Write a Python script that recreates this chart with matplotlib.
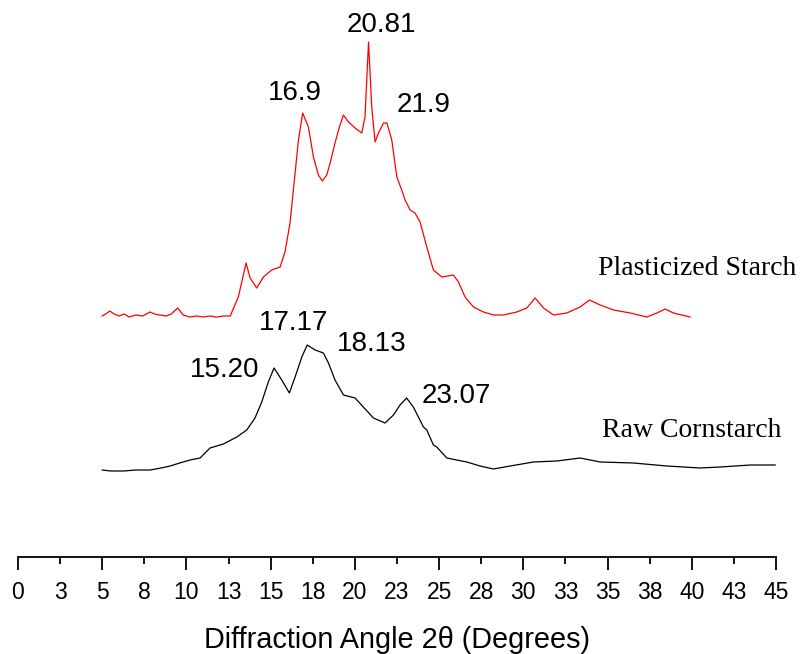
"""XRD patterns of raw and plasticized cornstarch."""

import matplotlib

matplotlib.use("Agg")
import matplotlib.pyplot as plt
import numpy as np
from matplotlib.ticker import FuncFormatter, MultipleLocator

# Plasticized starch trace: 2-theta (deg) and intensity above its own baseline (a.u.)
plast_2theta = [
    5.0, 5.2, 5.45, 5.7, 6.0, 6.3, 6.6, 7.0, 7.4, 7.84, 8.1, 8.4, 8.8, 9.1, 9.48, 9.8,
    10.2, 10.6, 11.0, 11.4, 11.8, 12.2, 12.6, 13.08, 13.54, 13.78, 14.17, 14.57, 15.06,
    15.56, 15.85, 16.15, 16.39, 16.65, 16.9, 17.24, 17.54, 17.83, 18.07, 18.33, 18.53,
    18.82, 19.08, 19.32, 19.62, 20.01, 20.41, 20.6, 20.81, 21.0, 21.2, 21.4, 21.7, 21.9,
    22.19, 22.49, 22.78, 22.98, 23.28, 23.57, 23.87, 24.27, 24.66, 25.16, 25.85, 26.15,
    26.54, 27.04, 27.63, 28.23, 28.82, 29.61, 30.21, 30.7, 31.2, 31.79, 32.58, 33.37,
    33.93, 34.56, 35.35, 36.34, 37.33, 37.93, 38.42, 38.91, 39.4, 39.9,
]
plast_int = [
    4, 6, 9, 6, 4, 6, 3, 5, 4, 8, 6, 5, 4, 6, 12, 5,
    3, 4, 3, 4, 3, 4, 4, 23, 57, 42, 32, 43, 50,
    53, 68, 97, 137, 180, 207, 193, 163, 145, 139, 145, 157,
    177, 193, 205, 198, 192, 187, 203, 278, 213, 178, 187, 197, 197,
    180, 143, 130, 120, 110, 107, 98, 73, 50, 43, 45, 38,
    23, 13, 8, 5, 5, 8, 12, 22, 12, 5, 7, 13,
    20, 15, 10, 7, 3, 7, 11, 7, 5, 3,
]

# Raw cornstarch trace
raw_2theta = [
    5.0, 5.5, 6.26, 7.0, 7.84, 8.5, 9.03, 9.6, 10.21, 10.81, 11.4, 12.19, 12.99, 13.58,
    14.07, 14.47, 14.86, 15.2, 15.66, 16.11, 16.45, 16.85, 17.17, 17.64, 18.13, 18.43,
    18.82, 19.32, 20.01, 20.5, 21.1, 21.79, 22.29, 22.68, 23.07, 23.47, 24.07, 24.27,
    24.66, 24.86, 25.46, 26.64, 27.43, 28.23, 29.22, 30.6, 31.99, 33.37, 34.56, 36.54,
    38.52, 40.5, 41.69, 43.47, 44.95,
]
raw_int = [
    2, 1, 1, 2, 2, 4, 6, 9, 12, 14, 24, 28, 35, 42,
    54, 70, 90, 104, 92, 79, 95, 115, 127, 122, 119, 109,
    92, 77, 74, 65, 54, 49, 57, 67, 74, 65, 45, 42,
    27, 25, 14, 10, 6, 3, 6, 10, 11, 14, 10, 9,
    6, 4, 5, 7, 7,
]

plast_peaks = ["16.9", "20.81", "21.9"]
raw_peaks = ["15.20", "17.17", "18.13", "23.07"]

W, H = 800, 654
fig = plt.figure(figsize=(W / 100, H / 100), dpi=100)
ax = fig.add_axes([18 / W, 97 / H, 758 / W, 557 / H])

plast_offset = 237
raw_offset = 85
ax.plot(plast_2theta, np.array(plast_int) + plast_offset, color="red", lw=0.9)
ax.plot(raw_2theta, np.array(raw_int) + raw_offset, color="black", lw=0.9)

sans = ["Liberation Sans", "DejaVu Sans"]
serif = ["Liberation Serif", "DejaVu Serif"]

# peak labels (text offset from the peak in data units)
plast_label_pos = [(16.45, 457), (21.56, 525), (24.08, 445)]
raw_label_pos = [(12.29, 180), (16.33, 227), (21.0, 206), (26.0, 154)]
for txt, (x, y) in zip(plast_peaks + raw_peaks, plast_label_pos + raw_label_pos):
    ax.text(x, y, txt, ha="center", va="baseline", fontsize=20, family=sans)

ax.text(34.44, 282, "Plasticized Starch", ha="left", va="baseline", fontsize=20, family=serif)
ax.text(34.66, 120, "Raw Cornstarch", ha="left", va="baseline", fontsize=20, family=serif)

ax.set_xlim(0, 45)
ax.set_ylim(0, 557)
for side in ("left", "right", "top"):
    ax.spines[side].set_visible(False)
ax.spines["bottom"].set_linewidth(1.3)
ax.set_yticks([])

ax.xaxis.set_major_locator(MultipleLocator(5))
ax.xaxis.set_minor_locator(MultipleLocator(2.5))
fmt = FuncFormatter(lambda v, _: f"{int(np.floor(v + 0.5))}")
ax.xaxis.set_major_formatter(fmt)
ax.xaxis.set_minor_formatter(fmt)
ax.tick_params(axis="x", which="major", direction="out", length=9.5, width=1.3, pad=7.5, labelsize=16.5)
ax.tick_params(axis="x", which="minor", direction="out", length=5, width=1.3, pad=12, labelsize=16.5)
for lab in ax.get_xticklabels(which="both"):
    lab.set_family(sans)

ax.set_xlabel("Diffraction Angle 2θ (Degrees)", fontsize=20.8, family=sans, labelpad=16)

fig.savefig("out.png", dpi=100)
